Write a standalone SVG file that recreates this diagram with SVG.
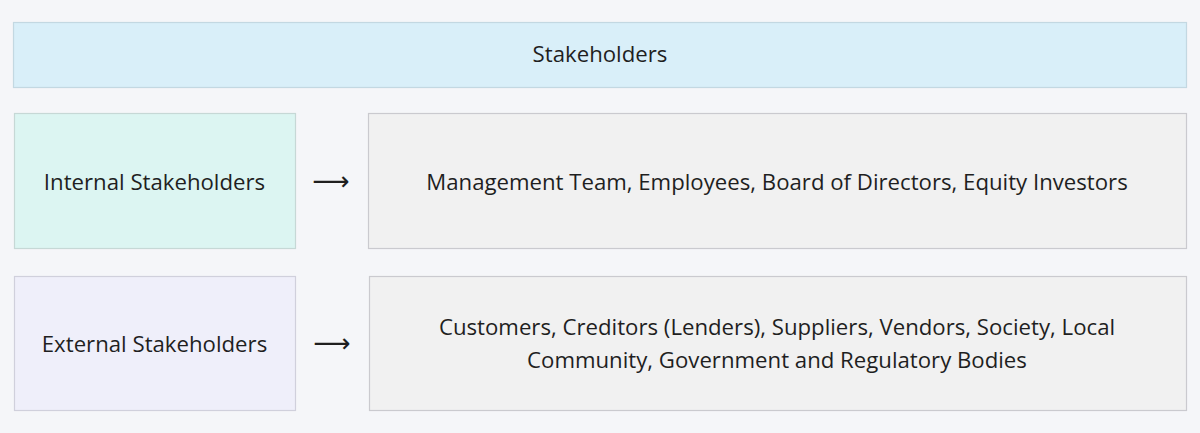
<svg xmlns="http://www.w3.org/2000/svg" width="1200" height="433" viewBox="0 0 1200 433">
<style>
.t{font-family:"Open Sans","Noto Sans","DejaVu Sans",sans-serif;font-size:22.2px;fill:#1f1f1f;text-anchor:middle;dominant-baseline:central}
.b{stroke-width:1.2}
.arr{font-family:"DejaVu Sans","Noto Sans",sans-serif;font-size:26px;fill:#1f1f1f;text-anchor:middle;dominant-baseline:central}
</style>
<rect width="1200" height="433" fill="#f5f6f9"/>
<g id="stakeholders">
<rect class="b" x="13.5" y="22.5" width="1173" height="65" fill="#d9eff9" stroke="#c3d8e2"/>
<text class="t" x="600" y="53.5">Stakeholders</text>
</g>
<g id="internal">
<rect class="b" x="14.5" y="113.5" width="281" height="135" fill="#dcf5f2" stroke="#c6d8d6"/>
<text class="t" x="154.5" y="181.5">Internal Stakeholders</text>
</g>
<g id="internal-list">
<rect class="b" x="368.5" y="113.5" width="818" height="135" fill="#f1f1f1" stroke="#cacacf"/>
<text class="t" x="777" y="181.5">Management Team, Employees, Board of Directors, Equity Investors</text>
</g>
<g id="external">
<rect class="b" x="14.5" y="276.5" width="281" height="134" fill="#efeffa" stroke="#d0d0dc"/>
<text class="t" x="154.5" y="343.5">External Stakeholders</text>
</g>
<g id="external-list">
<rect class="b" x="369.5" y="276.5" width="817" height="134" fill="#f1f1f1" stroke="#cacacf"/>
<text class="t" x="777" y="326.5">Customers, Creditors (Lenders), Suppliers, Vendors, Society, Local</text>
<text class="t" x="777" y="359.5">Community, Government and Regulatory Bodies</text>
</g>
<g id="connectors">
<text class="arr" x="331" y="181">⟶</text>
<text class="arr" x="332" y="343">⟶</text>
</g>
</svg>
